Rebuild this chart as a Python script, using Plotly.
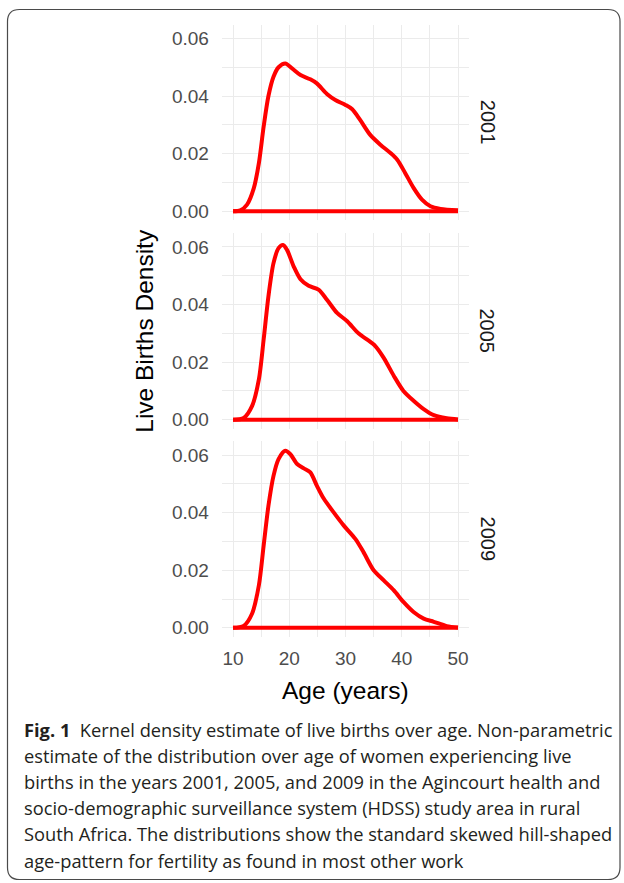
import plotly.graph_objects as go

W, H = 624, 883

# ---------------- data ----------------
years = ["2001", "2005", "2009"]

ages_2001 = [10, 11.3, 12.5, 13.7, 14.6, 15.45, 16.3, 17.2, 18.1, 19.3, 20.5, 22, 23.75,
             24.9, 26.7, 28.2, 30, 31.2, 32.6, 34.4, 36.2, 38, 39.2, 40.6, 42.1, 43.6,
             45.1, 46.9, 50]
dens_2001 = [0.0, 0.0003, 0.0023, 0.008, 0.0167, 0.0294, 0.040, 0.0467, 0.050, 0.0513,
             0.0496, 0.0473, 0.0458, 0.0444, 0.0407, 0.0386, 0.0369, 0.0354, 0.0317,
             0.0265, 0.0231, 0.0202, 0.0179, 0.0133, 0.0081, 0.004, 0.0017, 0.0008, 0.0003]

ages_2005 = [10, 11.9, 13.4, 14.6, 15.45, 16.3, 17.2, 18.1, 18.9, 19.6, 20.8, 22, 23.45,
             25.2, 26.7, 28.5, 30.3, 32.3, 33.8, 35.3, 36.8, 38.6, 40.3, 42.1, 43.9,
             45.7, 48, 50]
dens_2005 = [0.0, 0.0006, 0.0048, 0.014, 0.0279, 0.0429, 0.0544, 0.0596, 0.0607, 0.059,
             0.0532, 0.0488, 0.0465, 0.0452, 0.0417, 0.0371, 0.0342, 0.030, 0.0279,
             0.0256, 0.0215, 0.0152, 0.010, 0.0066, 0.0037, 0.0016, 0.0005, 0.0001]

ages_2009 = [10, 11.9, 13.4, 14.6, 15.45, 16.3, 17.2, 18.1, 19.3, 20.2, 21.4, 22.6, 23.75,
             24.9, 26.1, 27.9, 29.7, 31.75, 33.2, 35, 36.8, 38.6, 40.3, 42.1, 43.9,
             45.7, 48, 50]
dens_2009 = [0.0, 0.0007, 0.005, 0.0148, 0.0286, 0.0424, 0.0528, 0.0586, 0.0615, 0.0603,
             0.0569, 0.0554, 0.054, 0.0494, 0.045, 0.0401, 0.0355, 0.0309, 0.0263,
             0.020, 0.0165, 0.013, 0.009, 0.0055, 0.0032, 0.0021, 0.0006, 0.0001]

age_limits = [10, 50]
x_ticks = [10, 20, 30, 40, 50]
y_ticks = [0.00, 0.02, 0.04, 0.06]
y_tick_labels = ["0.00", "0.02", "0.04", "0.06"]

x_title = "Age (years)"
y_title = "Live Births Density"

caption_lines = [
    "<b>Fig. 1</b>\u00a0\u00a0Kernel density estimate of live births over age. Non-parametric",
    "estimate of the distribution over age of women experiencing live",
    "births in the years 2001, 2005, and 2009 in the Agincourt health and",
    "socio-demographic surveillance system (HDSS) study area in rural",
    "South Africa. The distributions show the standard skewed hill-shaped",
    "age-pattern for fertility as found in most other work",
]

series = [(ages_2001, dens_2001), (ages_2005, dens_2005), (ages_2009, dens_2009)]

# ---------------- layout helpers (pixel -> paper) ----------------
def px(x):
    return x / W

def py(y):
    return 1 - y / H

RED = "#FF0000"
GRID = "#EBEBEB"
TICKFONT = dict(family="Liberation Sans, Arial, sans-serif", size=19, color="#4D4D4D")

x_dom = [px(221.75), px(469.25)]
panel_px = [(24.7, 220.6), (233.7, 429.6), (442.3, 638.2)]

fig = go.Figure()

for i, (ages, dens) in enumerate(series):
    n = "" if i == 0 else str(i + 1)
    xa, ya = "x" + n, "y" + n
    fig.add_trace(go.Scatter(
        x=ages, y=dens, mode="lines", xaxis=xa, yaxis=ya,
        line=dict(color=RED, width=4, shape="spline", smoothing=0.8),
        hoverinfo="skip", showlegend=False))
    fig.add_trace(go.Scatter(
        x=age_limits, y=[0, 0], mode="lines", xaxis=xa, yaxis=ya,
        line=dict(color=RED, width=4), hoverinfo="skip", showlegend=False))

layout_axes = {}
for i, (top, bot) in enumerate(panel_px):
    n = "" if i == 0 else str(i + 1)
    last = i == len(panel_px) - 1
    layout_axes["xaxis" + n] = dict(
        domain=x_dom, anchor="y" + n, range=[8, 52],
        tickmode="array", tickvals=x_ticks, ticktext=[str(v) for v in x_ticks],
        showticklabels=last, ticks="outside" if last else "", ticklen=4,
        tickcolor="rgba(0,0,0,0)", tickfont=TICKFONT,
        showgrid=True, gridcolor=GRID, gridwidth=1.2,
        minor=dict(dtick=5, tick0=10, showgrid=True, gridcolor=GRID, gridwidth=0.8),
        zeroline=False, showline=False, fixedrange=True)
    layout_axes["yaxis" + n] = dict(
        domain=[py(bot), py(top)], anchor="x" + n, range=[-0.0031, 0.0648],
        tickmode="array", tickvals=y_ticks, ticktext=y_tick_labels,
        ticks="outside", ticklen=8, tickcolor="rgba(0,0,0,0)", tickfont=TICKFONT,
        showgrid=True, gridcolor=GRID, gridwidth=1.2,
        minor=dict(dtick=0.01, tick0=0, showgrid=True, gridcolor=GRID, gridwidth=0.8),
        zeroline=False, showline=False, fixedrange=True)

annotations = []
# strip labels
for i, (top, bot) in enumerate(panel_px):
    annotations.append(dict(
        x=px(487.5), y=py((top + bot) / 2), xref="paper", yref="paper",
        text=years[i], textangle=90, showarrow=False,
        font=dict(family="Liberation Sans, Arial, sans-serif", size=20, color="#1A1A1A"),
        xanchor="center", yanchor="middle"))
# axis titles
annotations.append(dict(
    x=px(345.5), y=py(692.5), xref="paper", yref="paper", text=x_title, showarrow=False,
    font=dict(family="Liberation Sans, Arial, sans-serif", size=24.5, color="#000000"),
    xanchor="center", yanchor="middle"))
annotations.append(dict(
    x=px(145), y=py(331.5), xref="paper", yref="paper", text=y_title, showarrow=False,
    textangle=-90,
    font=dict(family="Liberation Sans, Arial, sans-serif", size=24.5, color="#000000"),
    xanchor="center", yanchor="middle"))
# caption
for j, line in enumerate(caption_lines):
    annotations.append(dict(
        x=px(22), y=py(731 + j * 26.2), xref="paper", yref="paper", text=line,
        showarrow=False, align="left", xanchor="left", yanchor="middle",
        font=dict(family="Open Sans, Noto Sans, sans-serif", size=18.3, color="#231F20")))

# rounded border box
L, T, R, B, r = 7.5, 9.5, 620.0, 881.5, 12
path = (f"M {px(L + r)},{py(T)} L {px(R - r)},{py(T)} Q {px(R)},{py(T)} {px(R)},{py(T + r)} "
        f"L {px(R)},{py(B - r)} Q {px(R)},{py(B)} {px(R - r)},{py(B)} "
        f"L {px(L + r)},{py(B)} Q {px(L)},{py(B)} {px(L)},{py(B - r)} "
        f"L {px(L)},{py(T + r)} Q {px(L)},{py(T)} {px(L + r)},{py(T)} Z")

fig.update_layout(
    width=W, height=H, autosize=False,
    margin=dict(l=0, r=0, t=0, b=0),
    paper_bgcolor="white", plot_bgcolor="white",
    showlegend=False,
    annotations=annotations,
    shapes=[dict(type="path", path=path, xref="paper", yref="paper",
                 line=dict(color="#4A4A4A", width=1.2), fillcolor="rgba(0,0,0,0)",
                 layer="below")],
    **layout_axes)

fig.write_html(
    "out.html",
    config={"displayModeBar": False},
    post_script="document.body.style.margin='0';document.body.style.padding='0';"
                "document.body.style.overflow='hidden';",
)
